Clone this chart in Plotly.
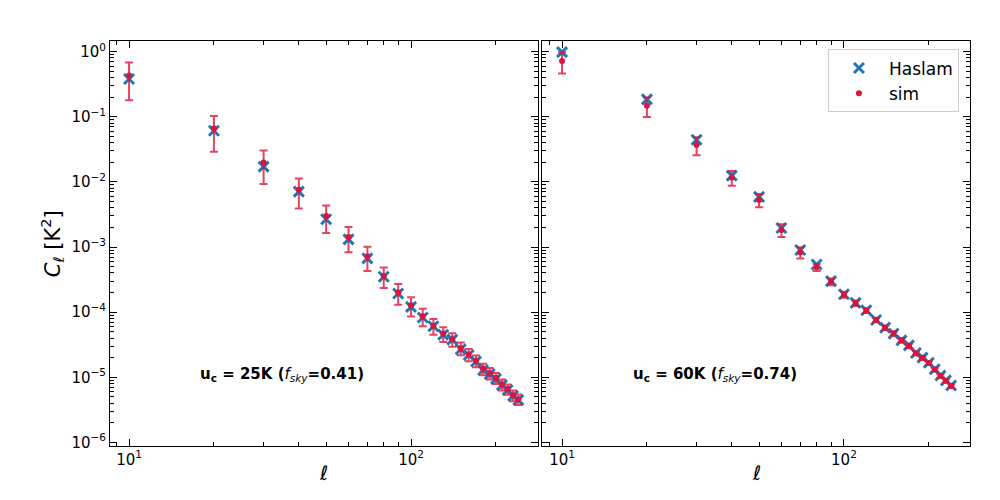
import plotly.graph_objects as go
from plotly.subplots import make_subplots

# multipole bins
ell = [10, 20, 30, 40, 50, 60, 70, 80, 90, 100, 110, 120,
       130, 140, 150, 160, 170, 180, 190, 200, 210, 220, 230, 240]

# u_c = 25K panel
haslam_25 = [0.38, 0.061, 0.0172, 0.0071, 0.00267, 0.00131, 0.00067, 0.00035,
             1.94e-4, 1.21e-4, 8.3e-5, 6.1e-5, 4.5e-5, 3.8e-5, 2.7e-5, 2.2e-5,
             1.75e-5, 1.3e-5, 1.12e-5, 9.5e-6, 7.6e-6, 6.4e-6, 5.2e-6, 4.5e-6]
sim_25 = [0.43, 0.066, 0.0198, 0.0076, 0.0030, 0.00143, 0.00072, 0.00036,
          2.0e-4, 1.28e-4, 8.7e-5, 6.2e-5, 4.7e-5, 3.85e-5, 2.8e-5, 2.25e-5,
          1.8e-5, 1.35e-5, 1.16e-5, 9.8e-6, 7.8e-6, 6.6e-6, 5.3e-6, 4.6e-6]
err_25 = [0.25, 0.037, 0.0105, 0.0037, 0.00135, 0.0006, 0.00029, 1.25e-4,
          7e-5, 4.2e-5, 2.6e-5, 1.7e-5, 1.2e-5, 9e-6, 6.2e-6, 4.8e-6,
          3.7e-6, 2.7e-6, 2.3e-6, 1.9e-6, 1.5e-6, 1.2e-6, 1.0e-6, 0.85e-6]

# u_c = 60K panel
haslam_60 = [0.98, 0.185, 0.0443, 0.0125, 0.0059, 0.00196, 0.0009, 0.00054,
             3.0e-4, 1.89e-4, 1.39e-4, 1.07e-4, 7.6e-5, 5.8e-5, 4.7e-5, 3.7e-5,
             3.1e-5, 2.37e-5, 2.01e-5, 1.68e-5, 1.33e-5, 1.07e-5, 9.0e-6, 7.5e-6]
sim_60 = [0.72, 0.148, 0.037, 0.0117, 0.0053, 0.00183, 0.00083, 0.00049,
          2.95e-4, 1.86e-4, 1.38e-4, 1.06e-4, 7.6e-5, 5.8e-5, 4.7e-5, 3.7e-5,
          3.05e-5, 2.35e-5, 2.0e-5, 1.66e-5, 1.32e-5, 1.06e-5, 8.9e-6, 7.4e-6]
err_60 = [0.26, 0.049, 0.0114, 0.003, 0.0012, 0.0004, 0.00016, 6e-5,
          3.5e-5, 2e-5, 1.3e-5, 9e-6, 6e-6, 4.5e-6, 3.5e-6, 2.7e-6,
          2.2e-6, 1.6e-6, 1.3e-6, 1.1e-6, 0.85e-6, 0.7e-6, 0.55e-6, 0.45e-6]

panel_notes = ["<b>u<sub>c</sub> = 25K (</b><i>f</i><sub><i>sky</i></sub><b>=0.41)</b>",
               "<b>u<sub>c</sub> = 60K (</b><i>f</i><sub><i>sky</i></sub><b>=0.74)</b>"]

BLUE = "#1f77b4"
RED = "#dc143c"
FONT = "DejaVu Sans"

fig = make_subplots(rows=1, cols=2, shared_yaxes=True)

panels = [(haslam_25, sim_25, err_25), (haslam_60, sim_60, err_60)]
for i, (h, s, e) in enumerate(panels):
    col = i + 1
    fig.add_trace(go.Scatter(x=ell, y=h, mode="markers", name="Haslam",
                             showlegend=(i == 1),
                             marker=dict(symbol="x-thin", size=10, color=BLUE,
                                         line=dict(color=BLUE, width=3))),
                  row=1, col=col)
    fig.add_trace(go.Scatter(x=ell, y=s, mode="markers", name="sim",
                             showlegend=(i == 1),
                             marker=dict(symbol="circle", size=6, color=RED),
                             error_y=dict(type="data", array=e, visible=True,
                                          color="rgba(220,20,60,0.8)",
                                          thickness=2, width=4)),
                  row=1, col=col)

# ticks
x_minor = [9, 20, 30, 40, 50, 60, 70, 80, 90, 200]
y_major = [10.0 ** k for k in range(0, -7, -1)]
y_text = ["10<sup>%d</sup>" % k if k == 0 else "10<sup>\u2212%d</sup>" % -k for k in range(0, -7, -1)]
y_minor = [m * 10.0 ** k for k in range(-7, 1) for m in range(2, 10)]

axis_common = dict(type="log", showgrid=False, zeroline=False, showline=True,
                   linecolor="black", linewidth=1, mirror="ticks",
                   ticks="inside", ticklen=7, tickwidth=1, tickcolor="black",
                   tickfont=dict(family=FONT, size=15, color="black"))

# figure is 984x484 so that with the page's 8px body margin it fills 1000x500
fig.update_xaxes(axis_common, range=[0.9326, 2.450], domain=[0.1037, 0.5386],
                 tickvals=[10, 100], ticktext=["10<sup>1</sup>", "10<sup>2</sup>"],
                 minor=dict(ticks="inside", ticklen=4, tickcolor="black", tickvals=x_minor),
                 row=1, col=1)
fig.update_xaxes(axis_common, range=[0.929, 2.447], domain=[0.5427, 0.9776],
                 tickvals=[10, 100], ticktext=["10<sup>1</sup>", "10<sup>2</sup>"],
                 minor=dict(ticks="inside", ticklen=4, tickcolor="black", tickvals=x_minor),
                 row=1, col=2)
fig.update_yaxes(axis_common, range=[-6.046, 0.169], domain=[0.0847, 0.9318],
                 tickvals=y_major, ticktext=y_text,
                 minor=dict(ticks="inside", ticklen=4, tickcolor="black", tickvals=y_minor))
fig.update_yaxes(showticklabels=False, row=1, col=2)

annotations = [
    dict(x=0.2785, y=0.2335, text=panel_notes[0]),
    dict(x=0.718, y=0.2335, text=panel_notes[1]),
    dict(x=0.3211, y=0.0, yanchor="bottom", borderpad=0, text="<i>\u2113</i>",
         font=dict(family=FONT, size=20, color="black")),
    dict(x=0.7602, y=0.0, yanchor="bottom", borderpad=0, text="<i>\u2113</i>",
         font=dict(family=FONT, size=20, color="black")),
    dict(x=0.0447, y=0.508, text="<i>C</i><sub>\u2113</sub> [K<sup>2</sup>]", textangle=-90,
         font=dict(family=FONT, size=21, color="black")),
]
for a in annotations:
    a.setdefault("font", dict(family=FONT, size=15, color="black"))
    a.setdefault("yanchor", "middle")
    fig.add_annotation(xref="paper", yref="paper", showarrow=False,
                       xanchor="center", **a)

fig.update_layout(
    width=984, height=484,
    margin=dict(l=0, r=0, t=0, b=0),
    paper_bgcolor="white", plot_bgcolor="white",
    font=dict(family=FONT, color="black"),
    legend=dict(x=0.8333, y=0.9132, xanchor="left", yanchor="top",
                bgcolor="rgba(255,255,255,0.8)", bordercolor="#cccccc", borderwidth=1,
                font=dict(family=FONT, size=17, color="black"),
                itemwidth=50, tracegroupgap=6),
)

fig.write_html("out.html")
